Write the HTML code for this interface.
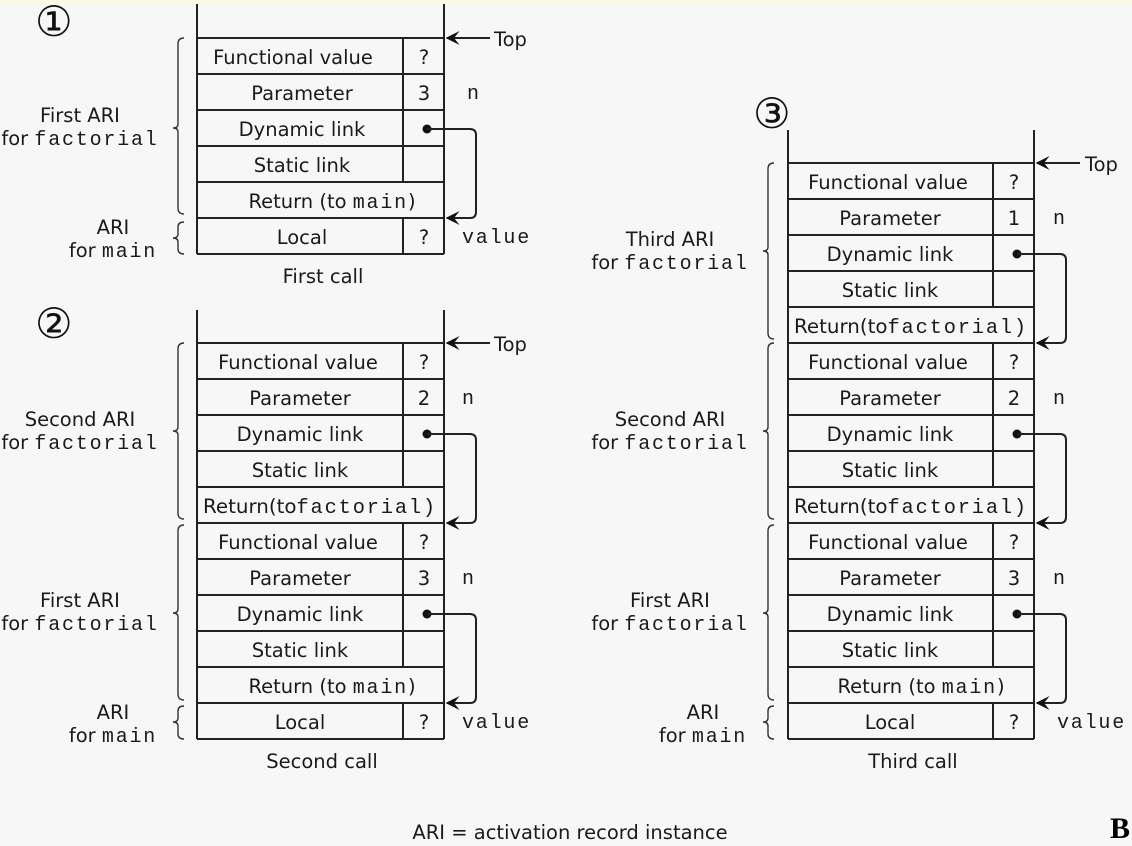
<!DOCTYPE html>
<html><head><meta charset="utf-8"><style>
html,body{margin:0;padding:0;background:#f7f7f7;}
svg{display:block;}
text{font-family:"DejaVu Sans","Liberation Sans",sans-serif;font-size:19.5px;fill:#1a1a1a;}
.m{font-family:"Liberation Mono",monospace;font-size:20px;letter-spacing:1.8px;}
.c{font-family:"Liberation Serif","DejaVu Serif",serif;font-size:42px;fill:#111;}
line,path.l{stroke:#222;stroke-width:2;fill:none;}
path.b{stroke:#333;stroke-width:1.4;fill:none;}
</style></head><body>
<svg width="1132" height="846" viewBox="0 0 1132 846" xmlns="http://www.w3.org/2000/svg">
<defs><marker id="ah" viewBox="0 0 10 10" refX="9" refY="5" markerWidth="9" markerHeight="7" orient="auto"><path d="M0,0 L10,5 L0,10 L4,5 Z" fill="#111"/></marker></defs>
<rect x="0" y="0" width="1132" height="4" fill="#fbf8e6"/>

<text class="c" x="35" y="36">①</text>
<text class="c" x="35" y="338">②</text>
<text class="c" x="753" y="128">③</text>

<!-- ================= STACK 1 ================= -->
<g>
<line x1="197" y1="4" x2="197" y2="254"/><line x1="444" y1="4" x2="444" y2="254"/>
<line x1="197" y1="38" x2="444" y2="38"/><line x1="197" y1="74" x2="444" y2="74"/>
<line x1="197" y1="110" x2="444" y2="110"/><line x1="197" y1="146" x2="444" y2="146"/>
<line x1="197" y1="182" x2="444" y2="182"/><line x1="197" y1="218" x2="444" y2="218"/>
<line x1="197" y1="254" x2="444" y2="254"/>
<line x1="403" y1="38" x2="403" y2="182"/><line x1="403" y1="218" x2="403" y2="254"/>
<text x="293" y="64" text-anchor="middle">Functional value</text><text x="424" y="64" text-anchor="middle">?</text>
<text x="302" y="100" text-anchor="middle">Parameter</text><text x="424" y="100" text-anchor="middle">3</text>
<text x="302" y="136" text-anchor="middle">Dynamic link</text>
<text x="302" y="172" text-anchor="middle">Static link</text>
<text x="332" y="208" text-anchor="middle">Return (to <tspan class="m">main</tspan>)</text>
<text x="302" y="244" text-anchor="middle">Local</text><text x="424" y="244" text-anchor="middle">?</text>
<text class="m" x="467" y="99">n</text>
<text class="m" x="462" y="243">value</text>
<line x1="490" y1="38" x2="447" y2="38" marker-end="url(#ah)"/><text x="494" y="46">Top</text>
<circle cx="427" cy="129" r="4.5" fill="#111"/>
<path class="l" d="M427 129 H470 q6 0 6 6 V212 q0 6 -6 6 H447" marker-end="url(#ah)"/>
<path class="b" d="M184 38 q-6 0 -6 6 V124 q0 4 -5 4 q5 0 5 4 V208 q0 6 6 6"/>
<path class="b" d="M184 222 q-6 0 -6 5 V234 q0 4 -5 4 q5 0 5 4 V249 q0 5 6 5"/>
<text x="80" y="122" text-anchor="middle">First ARI</text>
<text x="80" y="145" text-anchor="middle">for <tspan class="m">factorial</tspan></text>
<text x="113" y="234" text-anchor="middle">ARI</text>
<text x="113" y="257" text-anchor="middle">for <tspan class="m">main</tspan></text>
<text x="323" y="283" text-anchor="middle">First call</text>
</g>

<!-- ================= STACK 2 ================= -->
<g>
<line x1="197" y1="310" x2="197" y2="739"/><line x1="444" y1="310" x2="444" y2="739"/>
<line x1="197" y1="343" x2="444" y2="343"/><line x1="197" y1="379" x2="444" y2="379"/>
<line x1="197" y1="415" x2="444" y2="415"/><line x1="197" y1="451" x2="444" y2="451"/>
<line x1="197" y1="487" x2="444" y2="487"/><line x1="197" y1="523" x2="444" y2="523"/>
<line x1="197" y1="559" x2="444" y2="559"/><line x1="197" y1="595" x2="444" y2="595"/>
<line x1="197" y1="631" x2="444" y2="631"/><line x1="197" y1="667" x2="444" y2="667"/>
<line x1="197" y1="703" x2="444" y2="703"/><line x1="197" y1="739" x2="444" y2="739"/>
<line x1="403" y1="343" x2="403" y2="487"/><line x1="403" y1="523" x2="403" y2="667"/><line x1="403" y1="703" x2="403" y2="739"/>
<text x="298" y="369" text-anchor="middle">Functional value</text><text x="424" y="369" text-anchor="middle">?</text>
<text x="300" y="405" text-anchor="middle">Parameter</text><text x="424" y="405" text-anchor="middle">2</text>
<text x="300" y="441" text-anchor="middle">Dynamic link</text>
<text x="300" y="477" text-anchor="middle">Static link</text>
<text x="203" y="513" textLength="234" lengthAdjust="spacingAndGlyphs">Return(to<tspan class="m">factorial)</tspan></text>
<text x="298" y="549" text-anchor="middle">Functional value</text><text x="424" y="549" text-anchor="middle">?</text>
<text x="300" y="585" text-anchor="middle">Parameter</text><text x="424" y="585" text-anchor="middle">3</text>
<text x="300" y="621" text-anchor="middle">Dynamic link</text>
<text x="300" y="657" text-anchor="middle">Static link</text>
<text x="332" y="693" text-anchor="middle">Return (to <tspan class="m">main</tspan>)</text>
<text x="300" y="729" text-anchor="middle">Local</text><text x="424" y="729" text-anchor="middle">?</text>
<text class="m" x="462" y="404">n</text>
<text class="m" x="462" y="584">n</text>
<text class="m" x="462" y="728">value</text>
<line x1="490" y1="343" x2="447" y2="343" marker-end="url(#ah)"/><text x="494" y="351">Top</text>
<circle cx="427" cy="434" r="4.5" fill="#111"/>
<path class="l" d="M427 434 H470 q6 0 6 6 V517 q0 6 -6 6 H447" marker-end="url(#ah)"/>
<circle cx="427" cy="614" r="4.5" fill="#111"/>
<path class="l" d="M427 614 H470 q6 0 6 6 V697 q0 6 -6 6 H447" marker-end="url(#ah)"/>
<path class="b" d="M184 343 q-6 0 -6 6 V427 q0 4 -5 4 q5 0 5 4 V513 q0 6 6 6"/>
<path class="b" d="M184 525 q-6 0 -6 6 V609 q0 4 -5 4 q5 0 5 4 V694 q0 6 6 6"/>
<path class="b" d="M184 706 q-6 0 -6 5 V718 q0 4 -5 4 q5 0 5 4 V734 q0 5 6 5"/>
<text x="80" y="426" text-anchor="middle">Second ARI</text>
<text x="80" y="449" text-anchor="middle">for <tspan class="m">factorial</tspan></text>
<text x="80" y="607" text-anchor="middle">First ARI</text>
<text x="80" y="630" text-anchor="middle">for <tspan class="m">factorial</tspan></text>
<text x="113" y="719" text-anchor="middle">ARI</text>
<text x="113" y="742" text-anchor="middle">for <tspan class="m">main</tspan></text>
<text x="322" y="768" text-anchor="middle">Second call</text>
</g>

<!-- ================= STACK 3 ================= -->
<g>
<line x1="788" y1="130" x2="788" y2="739"/><line x1="1034" y1="130" x2="1034" y2="739"/>
<line x1="788" y1="163" x2="1034" y2="163"/><line x1="788" y1="199" x2="1034" y2="199"/>
<line x1="788" y1="235" x2="1034" y2="235"/><line x1="788" y1="271" x2="1034" y2="271"/>
<line x1="788" y1="307" x2="1034" y2="307"/><line x1="788" y1="343" x2="1034" y2="343"/>
<line x1="788" y1="379" x2="1034" y2="379"/><line x1="788" y1="415" x2="1034" y2="415"/>
<line x1="788" y1="451" x2="1034" y2="451"/><line x1="788" y1="487" x2="1034" y2="487"/>
<line x1="788" y1="523" x2="1034" y2="523"/><line x1="788" y1="559" x2="1034" y2="559"/>
<line x1="788" y1="595" x2="1034" y2="595"/><line x1="788" y1="631" x2="1034" y2="631"/>
<line x1="788" y1="667" x2="1034" y2="667"/><line x1="788" y1="703" x2="1034" y2="703"/>
<line x1="788" y1="739" x2="1034" y2="739"/>
<line x1="993" y1="163" x2="993" y2="307"/><line x1="993" y1="343" x2="993" y2="487"/>
<line x1="993" y1="523" x2="993" y2="667"/><line x1="993" y1="703" x2="993" y2="739"/>
<text x="888" y="189" text-anchor="middle">Functional value</text><text x="1014" y="189" text-anchor="middle">?</text>
<text x="890" y="225" text-anchor="middle">Parameter</text><text x="1014" y="225" text-anchor="middle">1</text>
<text x="890" y="261" text-anchor="middle">Dynamic link</text>
<text x="890" y="297" text-anchor="middle">Static link</text>
<text x="794" y="333" textLength="234" lengthAdjust="spacingAndGlyphs">Return(to<tspan class="m">factorial)</tspan></text>
<text x="888" y="369" text-anchor="middle">Functional value</text><text x="1014" y="369" text-anchor="middle">?</text>
<text x="890" y="405" text-anchor="middle">Parameter</text><text x="1014" y="405" text-anchor="middle">2</text>
<text x="890" y="441" text-anchor="middle">Dynamic link</text>
<text x="890" y="477" text-anchor="middle">Static link</text>
<text x="794" y="513" textLength="234" lengthAdjust="spacingAndGlyphs">Return(to<tspan class="m">factorial)</tspan></text>
<text x="888" y="549" text-anchor="middle">Functional value</text><text x="1014" y="549" text-anchor="middle">?</text>
<text x="890" y="585" text-anchor="middle">Parameter</text><text x="1014" y="585" text-anchor="middle">3</text>
<text x="890" y="621" text-anchor="middle">Dynamic link</text>
<text x="890" y="657" text-anchor="middle">Static link</text>
<text x="921" y="693" text-anchor="middle">Return (to <tspan class="m">main</tspan>)</text>
<text x="890" y="729" text-anchor="middle">Local</text><text x="1014" y="729" text-anchor="middle">?</text>
<text class="m" x="1053" y="224">n</text>
<text class="m" x="1053" y="404">n</text>
<text class="m" x="1053" y="584">n</text>
<text class="m" x="1057" y="728">value</text>
<line x1="1080" y1="163" x2="1037" y2="163" marker-end="url(#ah)"/><text x="1085" y="171">Top</text>
<circle cx="1017" cy="254" r="4.5" fill="#111"/>
<path class="l" d="M1017 254 H1060 q6 0 6 6 V337 q0 6 -6 6 H1037" marker-end="url(#ah)"/>
<circle cx="1017" cy="434" r="4.5" fill="#111"/>
<path class="l" d="M1017 434 H1060 q6 0 6 6 V517 q0 6 -6 6 H1037" marker-end="url(#ah)"/>
<circle cx="1017" cy="614" r="4.5" fill="#111"/>
<path class="l" d="M1017 614 H1060 q6 0 6 6 V697 q0 6 -6 6 H1037" marker-end="url(#ah)"/>
<path class="b" d="M774 163 q-6 0 -6 6 V247 q0 4 -5 4 q5 0 5 4 V333 q0 6 6 6"/>
<path class="b" d="M774 343 q-6 0 -6 6 V427 q0 4 -5 4 q5 0 5 4 V513 q0 6 6 6"/>
<path class="b" d="M774 525 q-6 0 -6 6 V609 q0 4 -5 4 q5 0 5 4 V694 q0 6 6 6"/>
<path class="b" d="M774 706 q-6 0 -6 5 V718 q0 4 -5 4 q5 0 5 4 V734 q0 5 6 5"/>
<text x="670" y="246" text-anchor="middle">Third ARI</text>
<text x="670" y="269" text-anchor="middle">for <tspan class="m">factorial</tspan></text>
<text x="670" y="426" text-anchor="middle">Second ARI</text>
<text x="670" y="449" text-anchor="middle">for <tspan class="m">factorial</tspan></text>
<text x="670" y="607" text-anchor="middle">First ARI</text>
<text x="670" y="630" text-anchor="middle">for <tspan class="m">factorial</tspan></text>
<text x="703" y="719" text-anchor="middle">ARI</text>
<text x="703" y="742" text-anchor="middle">for <tspan class="m">main</tspan></text>
<text x="913" y="768" text-anchor="middle">Third call</text>
</g>

<text x="570" y="839" text-anchor="middle">ARI = activation record instance</text>
<text x="1110" y="838" style="font-family:'Liberation Serif',serif;font-size:30px;font-weight:bold;fill:#000">B</text>
</svg>
</body></html>
